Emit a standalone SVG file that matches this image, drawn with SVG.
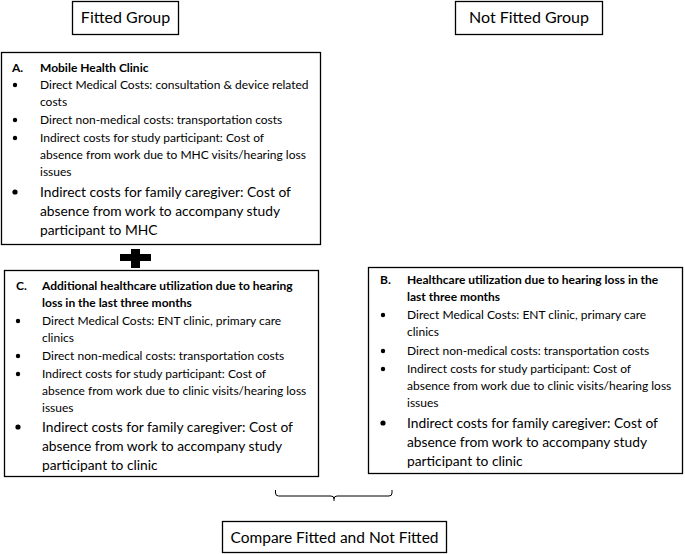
<svg xmlns="http://www.w3.org/2000/svg" width="685" height="554" viewBox="0 0 685 554">
<style>
  .box { fill: #fff; stroke: #000; stroke-width: 1.3; }
  .hd { font-family: Lato, "Liberation Sans", sans-serif; font-size: 16px; fill: #000; text-anchor: middle; }
  .t { font-family: Lato, "Liberation Sans", sans-serif; font-size: 12px; fill: #000; }
  .b { font-weight: bold; }
  .L { font-size: 13.8px; }
  .dot { fill: #000; }
  .con { fill: none; stroke: #000; stroke-width: 1; }
</style>
<rect width="685" height="554" fill="#fff"/>
<g id="fitted">
  <rect class="box" x="72.5" y="1.5" width="106" height="33"/>
  <text class="hd" x="125.5" y="23">Fitted Group</text>
</g>
<g id="notfitted">
  <rect class="box" x="455.5" y="1.5" width="147" height="33"/>
  <text class="hd" x="529" y="23">Not Fitted Group</text>
</g>
<g id="boxA">
  <rect class="box" x="1.5" y="52.5" width="319" height="192"/>
  <text class="t b" x="12" y="72">A.</text>
  <text class="t b" x="40" y="72">Mobile Health Clinic</text>
  <circle class="dot" cx="15" cy="85" r="2.2"/>
  <text class="t" x="40" y="89">Direct Medical Costs: consultation &amp; device related</text>
  <text class="t" x="40" y="106">costs</text>
  <circle class="dot" cx="15" cy="120" r="2.2"/>
  <text class="t" x="40" y="124">Direct non-medical costs: transportation costs</text>
  <circle class="dot" cx="15" cy="138" r="2.2"/>
  <text class="t" x="40" y="142">Indirect costs for study participant: Cost of</text>
  <text class="t" x="40" y="159">absence from work due to MHC visits/hearing loss</text>
  <text class="t" x="40" y="176">issues</text>
  <circle class="dot" cx="15" cy="192" r="2.6"/>
  <text class="t L" x="40" y="197">Indirect costs for family caregiver: Cost of</text>
  <text class="t L" x="40" y="216">absence from work to accompany study</text>
  <text class="t L" x="40" y="235">participant to MHC</text>
</g>
<g id="plus">
  <rect x="120" y="254" width="31" height="7" fill="#000"/>
  <rect x="131" y="249" width="9" height="19" fill="#000"/>
</g>
<g id="boxC">
  <rect class="box" x="4.5" y="270.5" width="314" height="206"/>
  <text class="t b" x="16" y="290">C.</text>
  <text class="t b" x="42" y="290">Additional healthcare utilization due to hearing</text>
  <text class="t b" x="42" y="307">loss in the last three months</text>
  <circle class="dot" cx="18" cy="321" r="2.2"/>
  <text class="t" x="42" y="325">Direct Medical Costs: ENT clinic, primary care</text>
  <text class="t" x="42" y="342">clinics</text>
  <circle class="dot" cx="18" cy="356" r="2.2"/>
  <text class="t" x="42" y="360">Direct non-medical costs: transportation costs</text>
  <circle class="dot" cx="18" cy="374" r="2.2"/>
  <text class="t" x="42" y="378">Indirect costs for study participant: Cost of</text>
  <text class="t" x="42" y="395">absence from work due to clinic visits/hearing loss</text>
  <text class="t" x="42" y="412">issues</text>
  <circle class="dot" cx="18" cy="427" r="2.6"/>
  <text class="t L" x="42" y="432">Indirect costs for family caregiver: Cost of</text>
  <text class="t L" x="42" y="451">absence from work to accompany study</text>
  <text class="t L" x="42" y="470">participant to clinic</text>
</g>
<g id="boxB">
  <rect class="box" x="368.5" y="267.5" width="314" height="206"/>
  <text class="t b" x="380" y="284">B.</text>
  <text class="t b" x="407" y="284">Healthcare utilization due to hearing loss in the</text>
  <text class="t b" x="407" y="301">last three months</text>
  <circle class="dot" cx="383" cy="315" r="2.2"/>
  <text class="t" x="407" y="319">Direct Medical Costs: ENT clinic, primary care</text>
  <text class="t" x="407" y="336">clinics</text>
  <circle class="dot" cx="383" cy="351" r="2.2"/>
  <text class="t" x="407" y="355">Direct non-medical costs: transportation costs</text>
  <circle class="dot" cx="383" cy="369" r="2.2"/>
  <text class="t" x="407" y="373">Indirect costs for study participant: Cost of</text>
  <text class="t" x="407" y="390">absence from work due to clinic visits/hearing loss</text>
  <text class="t" x="407" y="407">issues</text>
  <circle class="dot" cx="383" cy="423" r="2.6"/>
  <text class="t L" x="407" y="428">Indirect costs for family caregiver: Cost of</text>
  <text class="t L" x="407" y="447">absence from work to accompany study</text>
  <text class="t L" x="407" y="466">participant to clinic</text>
</g>
<g id="connectors">
  <path class="con" d="M275.5 490 V493 Q275.5 496 278.5 496 H331 Q334 496 334 499 V501 M334 499 Q334 496 337 496 H389 Q392 496 392 493 V490"/>
</g>
<g id="compare">
  <rect class="box" x="222.5" y="521.5" width="224" height="31"/>
  <text class="hd" x="334.5" y="543" style="font-size:15.5px">Compare Fitted and Not Fitted</text>
</g>
</svg>
